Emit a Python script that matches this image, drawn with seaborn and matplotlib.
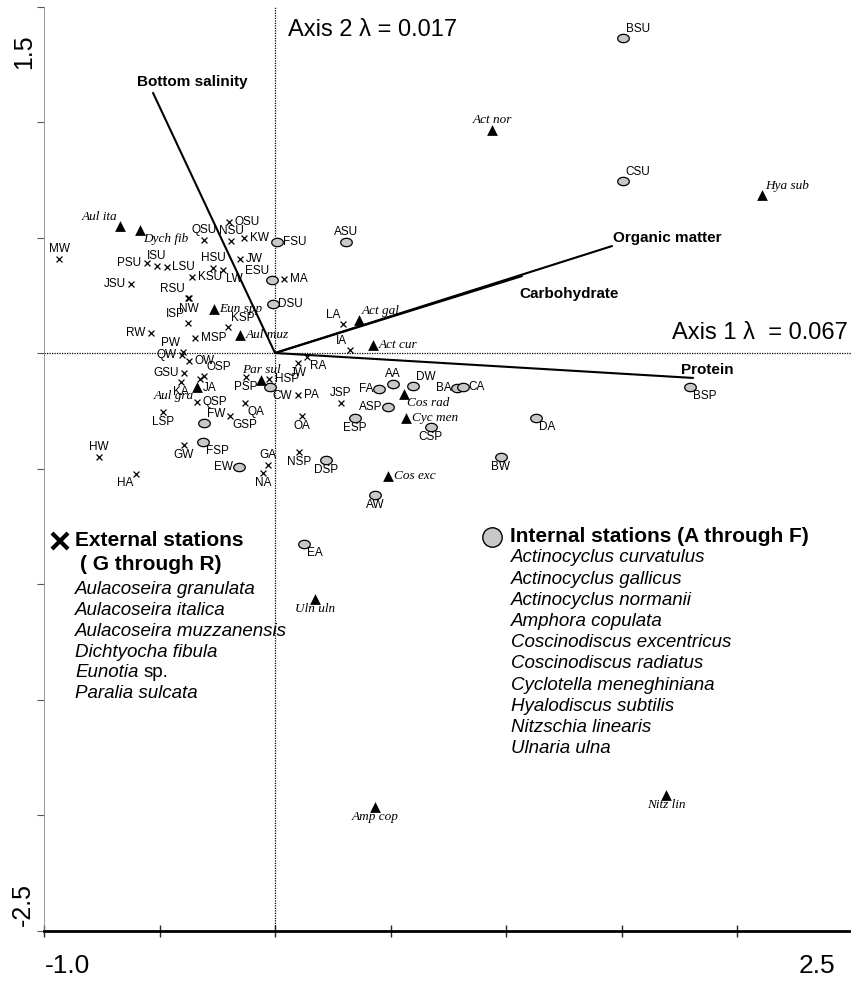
import numpy as np
import pandas as pd
import matplotlib
matplotlib.use("Agg")
import matplotlib.pyplot as plt
import seaborn as sns

# external stations (crosses)
ext_names = ["MW", "OSU", "QSU", "NSU", "KW", "PSU", "ISU", "LSU", "JSU", "HSU", "LW", "KSU",
             "JW", "MA", "LA", "IA", "RSU", "NW", "ISP", "KSP", "RW", "MSP", "PW", "QW", "OW",
             "GSU", "KA", "OSP", "JA", "QSP", "LSP", "GSP", "QA", "PSP", "HSP", "HW", "HA",
             "GW", "GA", "NA", "RA", "JW", "PA", "OA", "JSP", "NSP"]
ext_x = [-0.935, -0.199, -0.307, -0.190, -0.134, -0.554, -0.511, -0.468, -0.623, -0.268, -0.225, -0.359,
         -0.152, 0.039, 0.294, 0.325, -0.377, -0.372, -0.377, -0.203, -0.537, -0.346, -0.398, -0.403, -0.372,
         -0.394, -0.407, -0.307, -0.325, -0.338, -0.485, -0.195, -0.130, -0.126, -0.026, -0.762, -0.602,
         -0.394, -0.030, -0.052, 0.139, 0.100, 0.100, 0.117, 0.286, 0.104]
ext_y = [0.407, 0.567, 0.489, 0.485, 0.498, 0.390, 0.377, 0.372, 0.299, 0.368, 0.359, 0.329,
         0.407, 0.320, 0.126, 0.013, 0.240, 0.236, 0.130, 0.113, 0.087, 0.065, 0.004, -0.009, -0.035,
         -0.087, -0.126, -0.100, -0.113, -0.212, -0.255, -0.273, -0.216, -0.104, -0.113, -0.450, -0.524,
         -0.398, -0.485, -0.519, -0.017, -0.043, -0.182, -0.273, -0.216, -0.429]
ext_pos = ["a", "r", "a", "a", "r", "l", "a", "r", "l", "a", "br", "r",
           "r", "r", "al", "al", "al", "b", "al", "ar", "l", "r", "al", "l", "r",
           "l", "b", "ar", "br", "r", "b", "br", "br", "b", "r", "a", "bl",
           "b", "a", "b", "br", "b", "r", "b", "a", "b"]

# internal stations (grey circles)
int_names = ["ESU", "FSU", "DSU", "ASU", "FW", "CW", "FSP", "EW", "FA", "AA", "DW", "BA",
             "CA", "ASP", "ESP", "CSP", "DSP", "AW", "BSP", "DA", "BW", "BSU", "CSU", "EA"]
int_x = [-0.013, 0.009, -0.009, 0.307, -0.307, -0.022, -0.312, -0.156, 0.450, 0.511, 0.597, 0.788,
         0.814, 0.489, 0.346, 0.675, 0.221, 0.433, 1.797, 1.130, 0.978, 1.506, 1.506, 0.126]
int_y = [0.316, 0.481, 0.212, 0.481, -0.303, -0.147, -0.385, -0.494, -0.156, -0.134, -0.143, -0.152,
         -0.147, -0.234, -0.281, -0.320, -0.463, -0.615, -0.147, -0.281, -0.450, 1.364, 0.745, -0.827]
int_pos = ["al", "r", "r", "a", "ar", "br", "br", "l", "l", "a", "ar", "l",
           "r", "l", "b", "b", "b", "b", "br", "br", "b", "ar", "ar", "br"]

# species (black triangles)
sp_names = ["Aul ita", "Dych fib", "Eun spp", "Aul muz", "Aul gra", "Par sul", "Act gal", "Act cur",
            "Cos rad", "Cyc men", "Cos exc", "Act nor", "Hya sub", "Uln uln", "Amp cop", "Nitz lin"]
sp_x = [-0.671, -0.584, -0.264, -0.152, -0.338, -0.061, 0.364, 0.424,
        0.558, 0.567, 0.489, 0.939, 2.108, 0.173, 0.433, 1.693]
sp_y = [0.550, 0.532, 0.190, 0.078, -0.147, -0.117, 0.143, 0.035,
        -0.177, -0.281, -0.532, 0.965, 0.684, -1.065, -1.965, -1.913]
sp_pos = ["al", "br", "r", "r", "bl", "a", "ar", "r",
          "br", "r", "r", "a", "ar", "b", "b", "b"]

# environmental vectors
env_names = ["Bottom salinity", "Organic matter", "Carbohydrate", "Protein"]
env_x = [-0.528, 1.459, 1.069, 1.810]
env_y = [1.126, 0.463, 0.333, -0.108]

ext_legend = ["Aulacoseira granulata", "Aulacoseira italica", "Aulacoseira muzzanensis",
              "Dichtyocha fibula", "Eunotia", "Paralia sulcata"]
int_legend = ["Actinocyclus curvatulus", "Actinocyclus gallicus", "Actinocyclus normanii",
              "Amphora copulata", "Coscinodiscus excentricus", "Coscinodiscus radiatus",
              "Cyclotella meneghiniana", "Hyalodiscus subtilis", "Nitzschia linearis", "Ulnaria ulna"]

sns.set_style("white")
plt.rcParams["font.family"] = ["Liberation Sans", "DejaVu Sans"]
plt.rcParams["text.color"] = "black"

W, H = 851, 981
fig = plt.figure(figsize=(W / 100, H / 100), dpi=100)
ax = fig.add_axes([44 / W, (H - 930.5) / H, 808.5 / W, 924 / H])

def fpx(x, y):
    return x / W, 1 - y / H

ext = pd.DataFrame({"x": ext_x, "y": ext_y, "name": ext_names})
ints = pd.DataFrame({"x": int_x, "y": int_y, "name": int_names})
sp = pd.DataFrame({"x": sp_x, "y": sp_y, "name": sp_names})

t = np.linspace(0, 2 * np.pi, 40)
ellipse = list(zip(np.cos(t), 0.72 * np.sin(t)))

# zero lines
ax.axvline(0, color="black", lw=0.9, ls=(0, (1, 1)), zorder=1)
ax.axhline(0, color="black", lw=0.9, ls=(0, (1, 1)), zorder=1)

# vectors
for nm, vx, vy in zip(env_names, env_x, env_y):
    ax.plot([0, vx], [0, vy], color="black", lw=1.5, zorder=2)

sns.scatterplot(data=ext, x="x", y="y", marker="x", s=18, color="black", linewidth=0.9, ax=ax, zorder=3)
sns.scatterplot(data=ints, x="x", y="y", marker=ellipse, s=70, color="#c8c8c8", edgecolor="black",
                linewidth=0.9, ax=ax, zorder=3)
sns.scatterplot(data=sp, x="x", y="y", marker="^", s=60, color="black", linewidth=0, ax=ax, zorder=3)

OFF = {"r": (4, 0, "left", "center"), "l": (-4, 0, "right", "center"),
       "a": (0, 3, "center", "bottom"), "b": (0, -3, "center", "top"),
       "ar": (2, 2, "left", "bottom"), "al": (-2, 2, "right", "bottom"),
       "br": (2, -2, "left", "top"), "bl": (-2, -2, "right", "top")}

def label(names, xs, ys, pos, **kw):
    for nm, x, y, p in zip(names, xs, ys, pos):
        dx, dy, ha, va = OFF[p]
        ax.annotate(nm, (x, y), xytext=(dx, dy), textcoords="offset points", ha=ha, va=va, **kw)

label(ext_names, ext_x, ext_y, ext_pos, fontsize=8.5)
label(int_names, int_x, int_y, int_pos, fontsize=8.5)
label(sp_names, sp_x, sp_y, sp_pos, fontsize=9.5, family="Liberation Serif", style="italic")

# vector labels
ax.annotate(env_names[0], (env_x[0], env_y[0]), xytext=(28, 3), textcoords="offset points",
            ha="center", va="bottom", fontsize=11, fontweight="bold")
ax.annotate(env_names[1], (env_x[1], env_y[1]), xytext=(1, 1), textcoords="offset points",
            ha="left", va="bottom", fontsize=11, fontweight="bold")
ax.annotate(env_names[2], (env_x[2], env_y[2]), xytext=(-2, -8), textcoords="offset points",
            ha="left", va="top", fontsize=11, fontweight="bold")
ax.annotate(env_names[3], (env_x[3], env_y[3]), xytext=(-9, 1), textcoords="offset points",
            ha="left", va="bottom", fontsize=11, fontweight="bold")

ax.set_xlim(-1.0, 2.5)
ax.set_ylim(-2.5, 1.5)
ax.set_xlabel("")
ax.set_ylabel("")
ax.set_xticks(np.arange(-1.0, 2.51, 0.5))
ax.set_yticks(np.arange(-2.5, 1.51, 0.5))
ax.set_xticklabels([])
ax.set_yticklabels([])
ax.tick_params(axis="x", direction="inout", length=9, width=1, bottom=True)
ax.tick_params(axis="y", direction="out", length=5, width=0.8, left=True, color="#555555")
for s in ["top", "right"]:
    ax.spines[s].set_visible(False)
ax.spines["bottom"].set_linewidth(2)
ax.spines["bottom"].set_color("black")
ax.spines["left"].set_linewidth(0.6)
ax.spines["left"].set_color("#888888")

# axis annotations
fig.text(*fpx(288, 30), "Axis 2 \u03bb = 0.017", fontsize=17, ha="left", va="center")
fig.text(*fpx(848, 333), "Axis 1 \u03bb  = 0.067", fontsize=17, ha="right", va="center")
fig.text(*fpx(24, 52), "1.5", fontsize=18, rotation=90, ha="center", va="center")
fig.text(*fpx(23, 904), "-2.5", fontsize=18, rotation=90, ha="center", va="center")
fig.text(*fpx(67, 966), "-1.0", fontsize=19, ha="center", va="center")
fig.text(*fpx(817, 966), "2.5", fontsize=19, ha="center", va="center")

# legend blocks
ax.plot(*fpx(60, 541), marker="x", ms=12, mew=3, color="black", transform=fig.transFigure, clip_on=False)
fig.text(*fpx(75, 541), "External stations", fontsize=15, fontweight="bold", ha="left", va="center")
fig.text(*fpx(80, 565), "( G through R)", fontsize=15, fontweight="bold", ha="left", va="center")
renderer = fig.canvas.get_renderer()
for i, nm in enumerate(ext_legend):
    yy = 590 + i * 20.7
    txt = fig.text(*fpx(75, yy), nm, fontsize=13.5, style="italic", ha="left", va="center")
    if nm == "Eunotia":
        bb = txt.get_window_extent(renderer)
        fig.text(bb.x1 / W + 5 / W, 1 - yy / H, "sp.", fontsize=13.5, ha="left", va="center")

ax.plot(*fpx(492, 537), marker="o", ms=14, mew=1, mfc="#c8c8c8", mec="black",
        transform=fig.transFigure, clip_on=False)
fig.text(*fpx(510, 537), "Internal stations (A through F)", fontsize=15, fontweight="bold",
         ha="left", va="center")
for i, nm in enumerate(int_legend):
    fig.text(*fpx(511, 558 + i * 21.2), nm, fontsize=13.5, style="italic", ha="left", va="center")

fig.savefig("out.png", dpi=100)
